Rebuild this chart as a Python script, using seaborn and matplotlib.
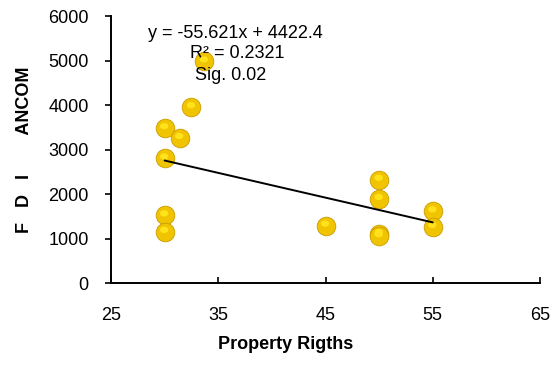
import seaborn as sns
import matplotlib.pyplot as plt
import numpy as np
import pandas as pd
from matplotlib.path import Path

# property rights score vs FDI
property_rights = [33.7, 30, 31.4, 32.5, 30, 30, 30, 45, 50, 50, 50, 50, 55, 55]
fdi = [4980, 3480, 3260, 3950, 2800, 1520, 1150, 1290, 2320, 1890, 1100, 1050, 1610, 1260]

slope = -55.621
intercept = 4422.4
fit_x = [30, 55]

x_ticks = [25, 35, 45, 55, 65]
y_ticks = [0, 1000, 2000, 3000, 4000, 5000, 6000]

sns.set_style("white", {'text.color': 'black', 'axes.labelcolor': 'black',
                        'xtick.color': 'black', 'ytick.color': 'black'})
plt.rcParams['font.family'] = ['Liberation Sans', 'DejaVu Sans']

df = pd.DataFrame({'x': property_rights, 'y': fdi})
fit = pd.DataFrame({'x': fit_x, 'y': [slope * v + intercept for v in fit_x]})

# highlight glint sitting in the upper part of each ball
t = np.linspace(0, 2 * np.pi, 40)
glint = Path(np.column_stack([0.45 * np.cos(t) - 0.05, 0.34 * np.sin(t) + 0.22]))
glint_full = Path(np.vstack([glint.vertices, [[0, -1.0], [0, 1.0]]]),
                  [Path.MOVETO] + [Path.LINETO] * 39 + [Path.MOVETO, Path.MOVETO])

fig = plt.figure(figsize=(5.55, 3.83), dpi=100)
ax = fig.add_axes([0.2, 0.261, 0.773, 0.697])

sns.scatterplot(data=df, x='x', y='y', s=180, color='#F0C400', edgecolor='#C89C00',
                linewidth=0.6, ax=ax, zorder=3)
sns.scatterplot(data=df, x='x', y='y', s=180, marker=glint_full, color='#FFE21C',
                edgecolor='none', linewidth=0, ax=ax, zorder=4)
sns.lineplot(data=fit, x='x', y='y', color='black', linewidth=1.4, ax=ax, zorder=5)

ax.set_xlim(25, 65)
ax.set_ylim(0, 6000)
ax.set_xticks(x_ticks)
ax.set_yticks(y_ticks)
ax.tick_params(axis='x', bottom=True, direction='in', length=4, width=1.2, pad=17, labelsize=13)
ax.tick_params(axis='y', left=True, direction='out', length=4, width=1.2, pad=12, labelsize=13)
for side in ['top', 'right']:
    ax.spines[side].set_visible(False)
for side in ['left', 'bottom']:
    ax.spines[side].set_color('black')
    ax.spines[side].set_linewidth(1.4)

ax.set_xlabel('Property Rigths', fontsize=13, fontweight='bold', labelpad=8)
ax.xaxis.set_label_coords(0.406, -0.2, transform=ax.transAxes)
ax.set_ylabel('F   D   I        ANCOM', fontsize=13, fontweight='bold', labelpad=11)

ax.text(0.086, 0.936, 'y = -55.621x + 4422.4', transform=ax.transAxes, fontsize=13, va='center')
ax.text(0.184, 0.861, 'R² = 0.2321', transform=ax.transAxes, fontsize=13, va='center')
ax.text(0.196, 0.779, 'Sig. 0.02', transform=ax.transAxes, fontsize=13, va='center')

fig.savefig('out.png', dpi=100)
